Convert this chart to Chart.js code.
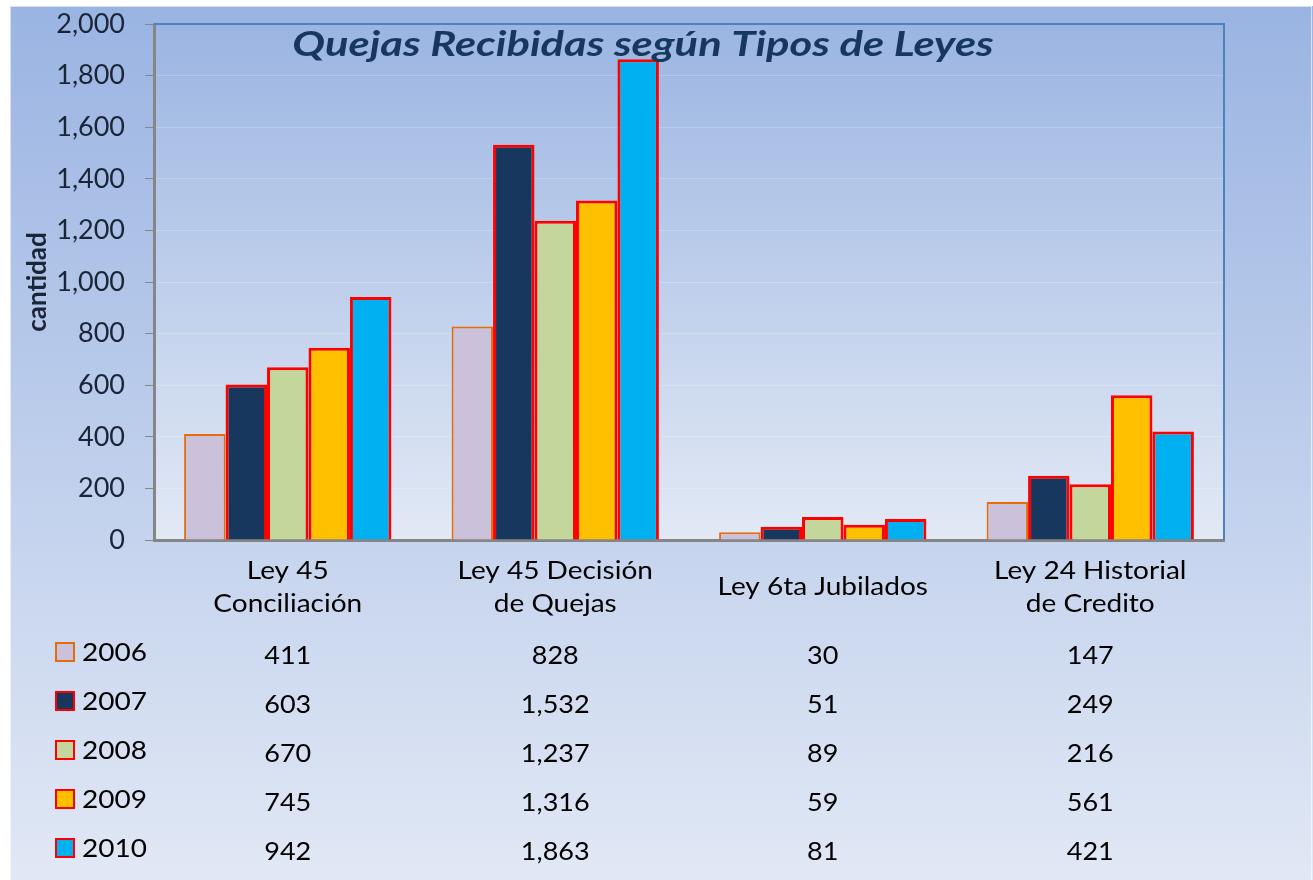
<!DOCTYPE html>
<html>
<head>
<meta charset="utf-8">
<script src="https://cdn.jsdelivr.net/npm/chart.js@4/dist/chart.umd.min.js"></script>
<style>
  html, body { margin: 0; padding: 0; background: #fff; }
  canvas { display: block; }
</style>
</head>
<body>
<canvas id="quejas" width="1313" height="880"></canvas>
<script>
// Quejas recibidas por tipo de ley, 2006-2010
const categories = [['Ley 45', 'Conciliación'], ['Ley 45 Decisión', 'de Quejas'], ['Ley 6ta Jubilados'], ['Ley 24 Historial', 'de Credito']];
const years = ['2006', '2007', '2008', '2009', '2010'];
const q2006 = [411, 828, 30, 147];
const q2007 = [603, 1532, 51, 249];
const q2008 = [670, 1237, 89, 216];
const q2009 = [745, 1316, 59, 561];
const q2010 = [942, 1863, 81, 421];
const yTicks = [0, 200, 400, 600, 800, 1000, 1200, 1400, 1600, 1800, 2000];

const series = [q2006, q2007, q2008, q2009, q2010];
const fills = ['#ccc1da', '#17375e', '#c3d69b', '#ffc000', '#00b0f0'];
const strokes = ['#e46c0a', '#ff0000', '#ff0000', '#ff0000', '#ff0000'];
const FONT = 'Lato, "Open Sans", sans-serif';

const fmt = (n) => n.toLocaleString('en-US');

// text a bit wider than Lato, closer to the original's look
function wideText(ctx, text, x, y, sx) {
    ctx.save();
    ctx.translate(x, y);
    ctx.scale(sx, 1);
    ctx.fillText(text, 0, 0);
    ctx.restore();
}

// background + plot frame + title + table
const decor = {
    id: 'decor',
    beforeDraw(chart) {
        const { ctx, chartArea: a, width, height } = chart;
        ctx.save();
        ctx.fillStyle = '#ffffff';
        ctx.fillRect(0, 0, width, height);
        let g = ctx.createLinearGradient(0, 6, 0, height);
        g.addColorStop(0, '#9ab4e2');
        g.addColorStop(1, '#e1e8f5');
        ctx.fillStyle = g;
        ctx.fillRect(10, 6, width - 10, height - 6);
        ctx.strokeStyle = 'rgba(255,255,255,0.6)';
        ctx.lineWidth = 1;
        ctx.strokeRect(10.5, 6.5, width - 12, height);

        g = ctx.createLinearGradient(0, a.top, 0, a.bottom);
        g.addColorStop(0, '#9bb5e2');
        g.addColorStop(1, '#e2e9f5');
        ctx.fillStyle = g;
        ctx.fillRect(a.left, a.top, a.right - a.left, a.bottom - a.top);
        ctx.restore();
    },
    afterDraw(chart) {
        const { ctx, chartArea: a } = chart;
        const x = chart.scales.x;
        ctx.save();
        // blue frame top + right
        ctx.strokeStyle = '#4f81bd';
        ctx.lineWidth = 2;
        ctx.beginPath();
        ctx.moveTo(a.left, a.top);
        ctx.lineTo(a.right, a.top);
        ctx.lineTo(a.right, a.bottom);
        ctx.stroke();

        // title
        ctx.fillStyle = '#17375e';
        ctx.font = 'italic bold 34px ' + FONT;
        ctx.textAlign = 'center';
        ctx.textBaseline = 'middle';
        wideText(ctx, 'Quejas Recibidas según Tipos de Leyes', 643, 45, 1.28);

        // category labels
        ctx.fillStyle = '#000';
        ctx.font = '25px ' + FONT;
        categories.forEach((lines, i) => {
            const cx = x.getPixelForValue(i);
            const y0 = 587 - (lines.length - 1) * 16.5;
            lines.forEach((t, j) => wideText(ctx, t, cx, y0 + j * 33, 1.12));
        });

        // data table
        series.forEach((vals, r) => {
            const cy = 655 + r * 49;
            ctx.fillStyle = fills[r];
            ctx.fillRect(56, cy - 12, 18, 18);
            ctx.strokeStyle = strokes[r];
            ctx.lineWidth = 2;
            ctx.strokeRect(56, cy - 12, 18, 18);
            ctx.fillStyle = '#000';
            ctx.textAlign = 'left';
            wideText(ctx, years[r], 82, cy - 2, 1.12);
            ctx.textAlign = 'center';
            vals.forEach((v, i) => wideText(ctx, fmt(v), x.getPixelForValue(i), cy + 1, 1.08));
        });
        ctx.restore();
    }
};

new Chart(document.getElementById('quejas'), {
    type: 'bar',
    data: {
        labels: categories,
        datasets: series.map((vals, i) => ({
            label: years[i],
            data: vals,
            backgroundColor: fills[i],
            borderColor: strokes[i],
            borderWidth: i === 0 ? 2 : 3,
            categoryPercentage: 0.775,
            barPercentage: 1.0,
        })),
    },
    options: {
        responsive: false,
        animation: false,
        devicePixelRatio: 1,
        layout: { padding: { top: 24, right: 89, bottom: 340, left: 0 } },
        plugins: {
            legend: { display: false },
            tooltip: { enabled: false },
        },
        scales: {
            x: {
                ticks: { display: false },
                grid: { display: false },
                border: { display: true, color: '#868686', width: 3 },
                afterFit: (s) => { s.height = 0; s.paddingLeft = 0; s.paddingRight = 0; },
            },
            y: {
                min: 0,
                max: 2000,
                afterBuildTicks: (s) => { s.ticks = yTicks.map((v) => ({ value: v })); },
                afterFit: (s) => { s.width = 154; s.paddingTop = 0; s.paddingBottom = 0; },
                ticks: {
                    color: '#1b2538',
                    font: { family: FONT, size: 27 },
                    padding: 20,
                    callback: (v) => fmt(v),
                },
                grid: {
                    color: 'rgba(255,255,255,0.2)',
                    tickColor: '#868686',
                    tickLength: 9,
                    lineWidth: 1,
                },
                border: { display: true, color: '#868686', width: 3 },
                title: {
                    display: true,
                    text: 'cantidad',
                    color: '#1b2538',
                    font: { family: FONT, size: 26, weight: 'bold' },
                    padding: { top: 22, bottom: 0 },
                },
            },
        },
    },
    plugins: [decor],
});
</script>
</body>
</html>
